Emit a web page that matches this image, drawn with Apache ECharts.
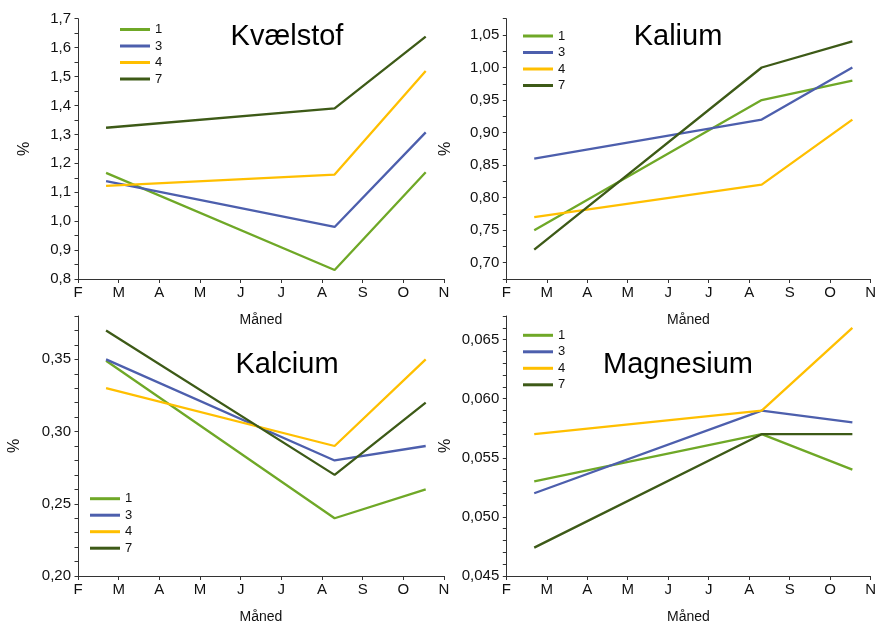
<!DOCTYPE html>
<html>
<head>
<meta charset="utf-8">
<script src="https://cdn.jsdelivr.net/npm/echarts@6/dist/echarts.min.js"></script>
<style>
html,body{margin:0;padding:0;background:#fff;}
#c{width:879px;height:625px;}
</style>
</head>
<body>
<div id="c"></div>
<script>
// ---- data ----
const months = ['F','M','A','M','J','J','A','S','O','N'];
const sampleX = [0.69, 6.31, 8.55];           // sample times in months after 1 Feb
const seriesNames = ['1','3','4','7'];
const panelTitles = ['Kvælstof','Kalium','Kalcium','Magnesium'];
const yName = '%';
const xName = 'Måned';

const kv1 = [1.167, 0.831, 1.169];
const kv3 = [1.138, 0.980, 1.307];
const kv4 = [1.122, 1.161, 1.519];
const kv7 = [1.323, 1.390, 1.638];

const ka1 = [0.75, 0.95, 0.98];
const ka3 = [0.86, 0.92, 1.00];
const ka4 = [0.77, 0.82, 0.92];
const ka7 = [0.72, 1.00, 1.04];

const ca1 = [0.349, 0.24, 0.26];
const ca3 = [0.35, 0.28, 0.29];
const ca4 = [0.33, 0.29, 0.35];
const ca7 = [0.37, 0.27, 0.32];

const mg1 = [0.053, 0.057, 0.054];
const mg3 = [0.052, 0.059, 0.058];
const mg4 = [0.057, 0.059, 0.066];
const mg7 = [0.0474, 0.057, 0.057];

// ---- styling ----
const colors = ['#6fa827', '#4d5fad', '#ffbf00', '#3d5a17'];
const FONT = "'Liberation Sans', Arial, sans-serif";

const panels = [
  {data:[kv1,kv3,kv4,kv7], min:0.8, max:1.7, step:0.05, major:0.1, dec:1,
   grid:{left:78, top:18.7, width:366, height:260.3}, nameGap:45,
   title:{x:287, y:37}, legend:{left:120, top:22.5}},
  {data:[ka1,ka3,ka4,ka7], min:0.675, max:1.075, step:0.025, major:0.05, dec:2,
   grid:{left:506.3, top:18.7, width:366, height:260.3}, nameGap:53,
   title:{x:678, y:37}, legend:{left:523, top:29}},
  {data:[ca1,ca3,ca4,ca7], min:0.2, max:0.38, step:0.01, major:0.05, dec:2,
   grid:{left:78, top:316, width:366, height:260.7}, nameGap:55,
   title:{x:287, y:365}, legend:{left:90, top:491.7}},
  {data:[mg1,mg3,mg4,mg7], min:0.045, max:0.067, step:0.001, major:0.005, dec:3,
   grid:{left:506.3, top:316, width:366, height:260.7}, nameGap:53,
   title:{x:678, y:365}, legend:{left:523, top:328.3}}
];

const axisLineStyle = {color:'#333', width:1};
const grids=[], xAxes=[], yAxes=[], series=[], legends=[], graphics=[];

panels.forEach((p, i) => {
  grids.push(Object.assign({containLabel:false}, p.grid));
  xAxes.push({
    type:'value', gridIndex:i, min:0, max:9, interval:1,
    name:xName, nameLocation:'middle', nameGap:34,
    nameTextStyle:{fontFamily:FONT, fontSize:14, color:'#111'},
    axisLine:{show:true, lineStyle:axisLineStyle},
    axisTick:{show:true, inside:false, length:4, lineStyle:axisLineStyle},
    axisLabel:{fontFamily:FONT, fontSize:15, color:'#111', margin:6,
      formatter:v => months[Math.round(v)] || ''},
    splitLine:{show:false}
  });
  yAxes.push({
    type:'value', gridIndex:i, min:p.min, max:p.max, interval:p.step,
    name:yName, nameLocation:'middle', nameGap:p.nameGap, nameRotate:90,
    nameTextStyle:{fontFamily:FONT, fontSize:16, color:'#111'},
    axisLine:{show:true, onZero:false, lineStyle:axisLineStyle},
    axisTick:{show:true, inside:false, length:3.5, lineStyle:axisLineStyle},
    axisLabel:{fontFamily:FONT, fontSize:15, color:'#111', margin:7, showMinLabel:true, showMaxLabel:true,
      formatter:v => {
        const r = v / p.major;
        if (Math.abs(r - Math.round(r)) > 1e-6) return '';
        return v.toFixed(p.dec).replace('.', ',');
      }},
    splitLine:{show:false}
  });
  p.data.forEach((arr, k) => {
    series.push({
      name:seriesNames[k], type:'line', xAxisIndex:i, yAxisIndex:i,
      data:arr.map((v, j) => [sampleX[j], v]),
      showSymbol:false, symbol:'none', animation:false,
      lineStyle:{color:colors[k], width:2.3}, itemStyle:{color:colors[k]}
    });
  });
  legends.push({
    orient:'vertical', left:p.legend.left, top:p.legend.top,
    data:seriesNames, icon:'rect', itemWidth:30, itemHeight:3, itemGap:2.5,
    padding:0, selectedMode:false,
    textStyle:{fontFamily:FONT, fontSize:13, color:'#111', lineHeight:14}
  });
  graphics.push({
    type:'text', x:p.title.x, y:p.title.y,
    style:{text:panelTitles[i], font:'29px ' + FONT, fill:'#000',
      textAlign:'center', textVerticalAlign:'middle'}
  });
});

const chart = echarts.init(document.getElementById('c'), null, {renderer:'canvas'});
chart.setOption({
  backgroundColor:'#fff',
  animation:false,
  color:colors,
  grid:grids, xAxis:xAxes, yAxis:yAxes, series:series,
  legend:legends, graphic:graphics
});
</script>
</body>
</html>
